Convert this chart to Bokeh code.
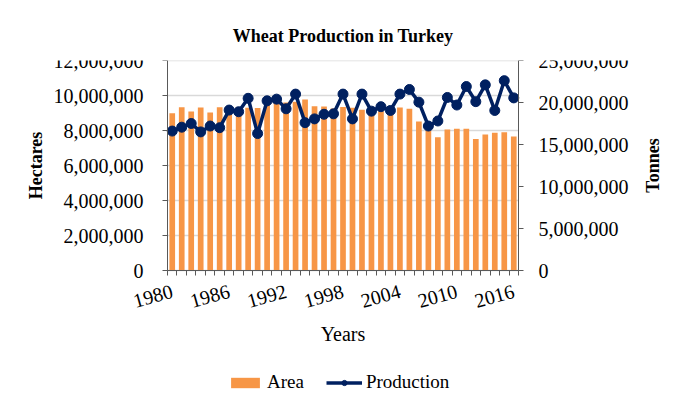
import math
from bokeh.plotting import figure
from bokeh.models import (Range1d, LinearAxis, FixedTicker, NumeralTickFormatter,
                          Legend, LegendItem, ColumnDataSource, Label)
from bokeh.embed import file_html
from bokeh.resources import INLINE

# ---- data ----
years = list(range(1980, 2017))
area = [8990000, 9330000, 9090000, 9310000, 9030000, 9330000, 9330000, 9350000,
        9300000, 9280000, 9450000, 9620000, 9600000, 9650000, 9770000, 9390000,
        9370000, 9260000, 9350000, 9300000, 9190000, 9100000, 9100000, 9000000,
        9310000, 9250000, 8510000, 8000000, 7620000, 8060000, 8100000, 8100000,
        7520000, 7770000, 7870000, 7900000, 7660000]
production = [16600000, 17060000, 17500000, 16500000, 17200000, 17000000, 19100000,
              18900000, 20500000, 16300000, 20200000, 20400000, 19250000, 21000000,
              17600000, 18050000, 18600000, 18650000, 21000000, 18050000, 21000000,
              18970000, 19500000, 19050000, 21000000, 21550000, 20040000, 17200000,
              17800000, 20600000, 19700000, 21900000, 20100000, 22100000, 19050000,
              22600000, 20550000]
left_ticks = [0, 2000000, 4000000, 6000000, 8000000, 10000000, 12000000]
right_ticks = [0, 5000000, 10000000, 15000000, 20000000, 25000000]
label_years = years[::6]
boundaries = [y - 0.5 for y in years] + [years[-1] + 0.5]

FONT = "Liberation Serif"
AXIS_COLOR = "#595959"

# ---- layout (pixels) ----
CANVAS_W = 685
PLOT_W = 351           # width of the data area
SIDE = 167             # space left / right of the data area
DATA_H = 210           # height of the data area
FRAME_H = 340          # frame reaches further down to hold x axis + legend
ppy = PLOT_W / len(years)
x_start = boundaries[0] - SIDE / ppy
x_end = boundaries[-1] + SIDE / ppy
ext = (DATA_H - FRAME_H) / DATA_H

src = ColumnDataSource(dict(year=years, area=area, production=production))

p = figure(frame_width=CANVAS_W, frame_height=FRAME_H, output_backend="svg",
           toolbar_location=None,
           x_range=Range1d(x_start, x_end),
           y_range=Range1d(left_ticks[-1] * ext, left_ticks[-1]),
           min_border_left=0, min_border_right=0,
           min_border_top=60, min_border_bottom=0,
           title="Wheat Production in Turkey")
p.extra_y_ranges = {"prod": Range1d(right_ticks[-1] * ext, right_ticks[-1])}
p.outline_line_color = None
p.background_fill_color = "white"
p.border_fill_color = "white"

p.title.text_font = FONT
p.title.text_font_size = "18px"
p.title.text_font_style = "bold"
p.title.align = "center"
p.title.text_color = "black"
p.title.standoff = 30

# horizontal grid lines, only across the data area
p.xgrid.visible = False
p.ygrid.visible = False
p.segment(x0=[boundaries[0]] * len(left_ticks), x1=[boundaries[-1]] * len(left_ticks),
          y0=left_ticks, y1=left_ticks, line_color="#d9d9d9", line_width=1.5)

bars = p.vbar(x="year", top="area", bottom=0, width=0.6, source=src,
              fill_color="#f79646", line_color=None)
line = p.line(x="year", y="production", source=src, y_range_name="prod",
              line_color="#002060", line_width=3.5)
pts = p.scatter(x="year", y="production", source=src, y_range_name="prod",
                size=10, fill_color="#002060", line_color="#002060")

# x axis, drawn at value 0
xa = p.xaxis[0]
xa.fixed_location = 0
xa.bounds = (boundaries[0], boundaries[-1])
xa.ticker = FixedTicker(ticks=label_years, minor_ticks=boundaries)
xa.major_tick_line_color = None
xa.minor_tick_out = 5
xa.minor_tick_in = 0
xa.minor_tick_line_color = AXIS_COLOR
xa.axis_line_color = AXIS_COLOR
xa.major_label_orientation = 0.27
xa.major_label_text_font = FONT
xa.major_label_text_font_size = "20px"
xa.major_label_text_color = "black"
xa.major_label_standoff = 14
xa.axis_label = "Years"
xa.axis_label_text_font = FONT
xa.axis_label_text_font_size = "20px"
xa.axis_label_text_font_style = "normal"
xa.axis_label_text_color = "black"
xa.axis_label_standoff = 5

# left axis, drawn at the left edge of the data area
ya = p.yaxis[0]
ya.fixed_location = boundaries[0]
ya.bounds = (left_ticks[0], left_ticks[-1])
ya.ticker = FixedTicker(ticks=left_ticks)
ya.formatter = NumeralTickFormatter(format="0,0")
ya.major_tick_out = 5
ya.major_tick_in = 0
ya.minor_tick_line_color = None
ya.axis_line_color = AXIS_COLOR
ya.major_tick_line_color = AXIS_COLOR
ya.major_label_text_font = FONT
ya.major_label_text_font_size = "20px"
ya.major_label_text_color = "black"
ya.major_label_standoff = 19

# right axis, drawn at the right edge of the data area
ra = LinearAxis(y_range_name="prod", ticker=FixedTicker(ticks=right_ticks),
                formatter=NumeralTickFormatter(format="0,0"),
                bounds=(right_ticks[0], right_ticks[-1]),
                fixed_location=boundaries[-1])
ra.major_tick_out = 5
ra.major_tick_in = 0
ra.minor_tick_line_color = None
ra.axis_line_color = AXIS_COLOR
ra.major_tick_line_color = AXIS_COLOR
ra.major_label_text_font = FONT
ra.major_label_text_font_size = "20px"
ra.major_label_text_color = "black"
ra.major_label_standoff = 15
p.add_layout(ra, "right")

# axis titles, centred on the data area
title_y = left_ticks[-1] / 2
p.add_layout(Label(x=boundaries[0] - (SIDE - 35) / ppy, y=title_y, text="Hectares",
                   angle=math.pi / 2, text_align="center", text_baseline="middle",
                   text_font=FONT, text_font_size="18px", text_font_style="bold",
                   text_color="black"))
p.add_layout(Label(x=boundaries[-1] + (652 - (CANVAS_W - SIDE)) / ppy, y=title_y,
                   text="Tonnes", angle=math.pi / 2, text_align="center",
                   text_baseline="middle", text_font=FONT, text_font_size="18px",
                   text_font_style="bold", text_color="black"))

legend = Legend(items=[LegendItem(label="Area", renderers=[bars]),
                       LegendItem(label="Production", renderers=[line, pts])],
                orientation="horizontal", location=(SIDE + 60, 7),
                border_line_color=None, background_fill_alpha=0,
                label_text_font=FONT, label_text_font_size="19px",
                label_text_color="black",
                glyph_width=36, glyph_height=13, label_standoff=4,
                spacing=22, padding=0, margin=0)
p.add_layout(legend)

open("out.html", "w").write(file_html(p, INLINE))
